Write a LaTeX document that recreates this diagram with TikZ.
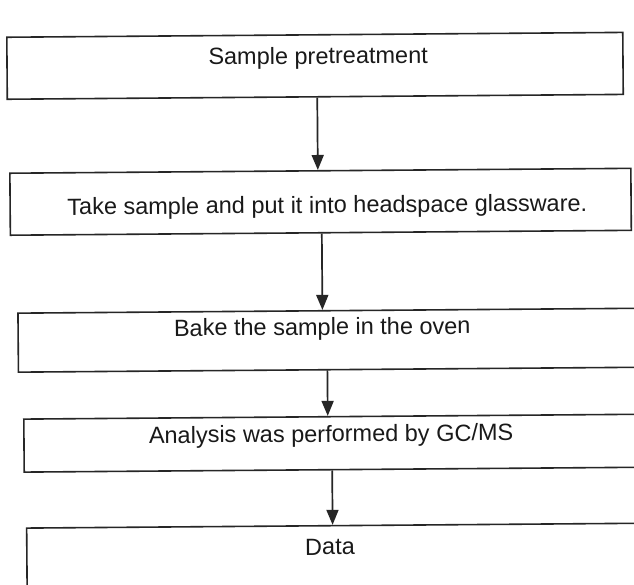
\documentclass[tikz,border=0pt]{standalone}
\usepackage{fontspec}
\setmainfont{Liberation Sans}
\usetikzlibrary{arrows.meta}
\begin{document}
\begin{tikzpicture}[x=1pt,y=-1pt,
  box/.style={draw=black!85, line width=1.6pt, rectangle, inner sep=0pt, anchor=north west},
  txt/.style={font=\fontsize{23.5}{28}\selectfont, text=black!90, inner sep=0pt},
  arr/.style={draw=black!85, line width=1.7pt, -{Triangle[length=15pt,width=12pt]}}]
\clip (0,0) rectangle (634,584);
\fill[white] (0,0) rectangle (634,584);
\begin{scope}[rotate around={0.45:(317,292)}, transform shape]
\node[box, minimum width=616pt, minimum height=62pt] (b1) at (8,34) {};
\node[box, minimum width=621pt, minimum height=62pt] (b2) at (10,170) {};
\node[box, minimum width=630pt, minimum height=59pt] (b3) at (17,310) {};
\node[box, minimum width=630pt, minimum height=53pt] (b4) at (22,416) {};
\node[box, minimum width=630pt, minimum height=70pt] (b5) at (24,525) {};
\node[txt] (t1) at (320,58) {Sample pretreatment};
\node[txt] (t2) at (328,207) {Take sample and put it into headspace glassware.};
\node[txt] (t3) at (322,329) {Bake the sample in the oven};
\node[txt] (t4) at (330,436) {Analysis was performed by GC/MS};
\node[txt] (t5) at (328,547) {Data};
\draw[arr] ([xshift=2pt]b1.south) -- ([xshift=2pt]b1.south |- b2.north);
\draw[arr] ([xshift=1pt]b2.south) -- ([xshift=1pt]b2.south |- b3.north);
\draw[arr] ([xshift=-6pt]b3.south) -- ([xshift=-6pt]b3.south |- b4.north);
\draw[arr] ([xshift=-7pt]b4.south) -- ([xshift=-7pt]b4.south |- b5.north);
\end{scope}
\end{tikzpicture}
\end{document}
